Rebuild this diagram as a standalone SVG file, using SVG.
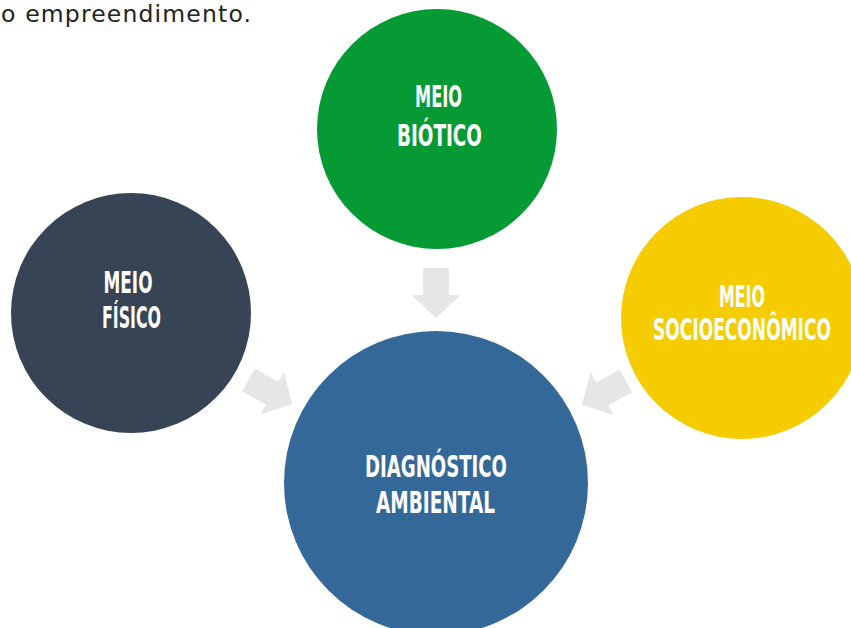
<svg xmlns="http://www.w3.org/2000/svg" width="851" height="628" viewBox="0 0 851 628">
<defs>
<style>
.lbl{font-family:"Liberation Sans Narrow","DejaVu Sans Condensed","Liberation Sans",sans-serif;font-weight:bold;font-size:31px;fill:#ffffff;text-anchor:middle}
.arrow{fill:#e6e6e6}
</style>
<polygon id="arr" points="0,-13 27,-13 27,-24.5 50,0 27,24.5 27,13 0,13"/>
</defs>
<rect width="851" height="628" fill="#ffffff"/>
<text x="1" y="22" font-family="DejaVu Sans, sans-serif" font-size="23.5" fill="#222222" textLength="250">o empreendimento.</text>
<g id="connectors">
<use href="#arr" class="arrow" transform="translate(436,268) rotate(90)"/>
<use href="#arr" class="arrow" transform="translate(248.5,380) rotate(29)"/>
<use href="#arr" class="arrow" transform="translate(626,381) rotate(152)"/>
</g>
<g id="meio-biotico">
<circle cx="437" cy="129" r="120" fill="#059a34"/>
<text class="lbl" x="438.5" y="107" textLength="47" lengthAdjust="spacingAndGlyphs">MEIO</text>
<text class="lbl" x="439.5" y="146" textLength="85" lengthAdjust="spacingAndGlyphs">BIÓTICO</text>
</g>
<g id="meio-fisico">
<circle cx="131" cy="313" r="120" fill="#374456"/>
<text class="lbl" x="128" y="293" textLength="49" lengthAdjust="spacingAndGlyphs">MEIO</text>
<text class="lbl" x="131.5" y="328" textLength="59" lengthAdjust="spacingAndGlyphs">FÍSICO</text>
</g>
<g id="meio-socioeconomico">
<circle cx="742" cy="318" r="121" fill="#f5cc00"/>
<text class="lbl" x="742" y="307" textLength="46" lengthAdjust="spacingAndGlyphs">MEIO</text>
<text class="lbl" x="742" y="340" textLength="178" lengthAdjust="spacingAndGlyphs">SOCIOECONÔMICO</text>
</g>
<g id="diagnostico-ambiental">
<circle cx="436" cy="483" r="152" fill="#346899"/>
<text class="lbl" x="436" y="477" textLength="142" lengthAdjust="spacingAndGlyphs">DIAGNÓSTICO</text>
<text class="lbl" x="435.5" y="513" textLength="119" lengthAdjust="spacingAndGlyphs">AMBIENTAL</text>
</g>
</svg>
